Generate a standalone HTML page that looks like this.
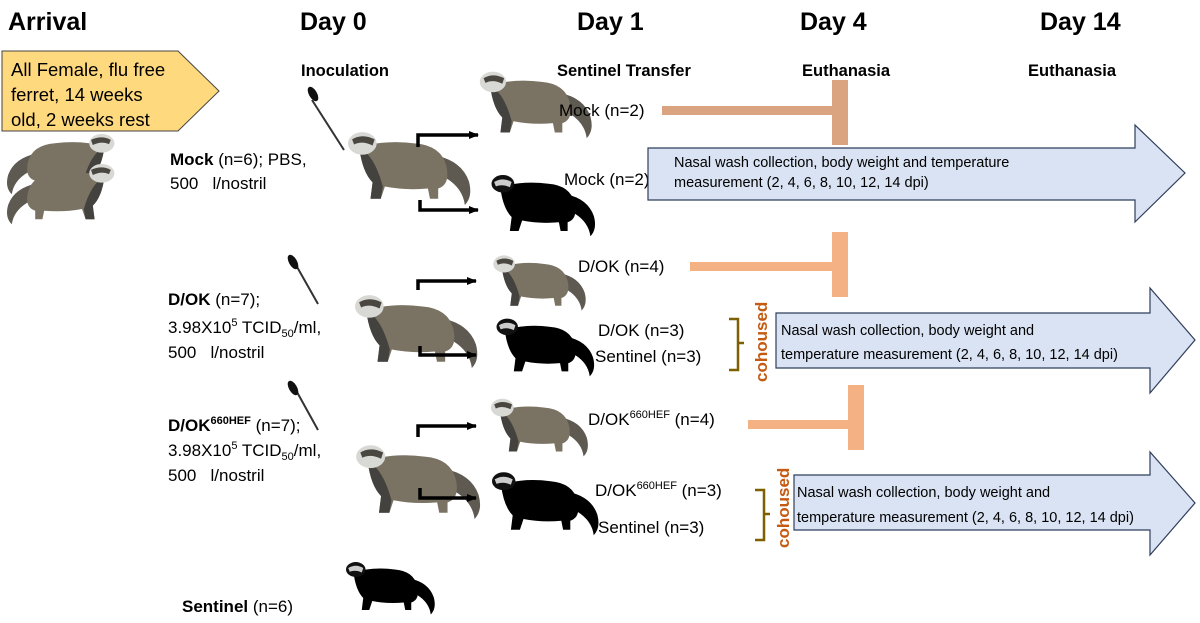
<!DOCTYPE html>
<html><head><meta charset="utf-8"><style>
body{margin:0;background:#fff;}
svg{display:block;font-family:"Liberation Sans",Arial,sans-serif;}
</style></head><body>
<svg width="1200" height="623" viewBox="0 0 1200 623" xmlns="http://www.w3.org/2000/svg">
<defs>
<symbol id="fg" viewBox="0 0 130 80">
<path d="M90 30 Q115 35 122 55 Q126 70 118 78 Q116 62 100 52 Z" fill="#5e5a52"/>
<path d="M15 22 Q40 14 70 18 Q95 20 100 40 Q104 58 92 62 L92 72 L84 72 L82 62 Q60 64 40 60 L36 72 L26 72 L28 56 Q18 46 15 22 Z" fill="#7a7263"/>
<path d="M15 22 Q30 30 38 60 L36 72 L26 72 L28 56 Q18 46 15 22 Z" fill="#44423e"/>
<ellipse cx="18" cy="18" rx="14" ry="11" fill="#d8d8d4"/>
<path d="M8 14 Q18 8 30 14 L28 20 Q18 15 10 19 Z" fill="#4a4640"/>
</symbol>
<symbol id="fb" viewBox="0 0 130 80">
<path d="M90 30 Q115 35 122 55 Q126 70 118 78 Q116 62 100 52 Z" fill="#000"/>
<path d="M15 22 Q40 14 70 18 Q95 20 100 40 Q104 58 92 62 L92 72 L84 72 L82 62 Q60 64 40 60 L36 72 L26 72 L28 56 Q18 46 15 22 Z" fill="#000"/>
<ellipse cx="18" cy="18" rx="13" ry="10" fill="#111"/>
<path d="M8 16 Q18 10 28 16 L26 22 Q18 18 10 21 Z" fill="#ccc"/>
</symbol>
<marker id="ah" markerUnits="userSpaceOnUse" markerWidth="10" markerHeight="10" refX="9" refY="5" orient="auto"><path d="M0 1 L10 5 L0 9 Z" fill="#000"/></marker>
</defs>

<g font-weight="bold" font-size="25" fill="#000">
<text x="8" y="30">Arrival</text>
<text x="300" y="30">Day 0</text>
<text x="577" y="30">Day 1</text>
<text x="800" y="30">Day 4</text>
<text x="1040" y="30">Day 14</text>
</g>
<g font-weight="bold" font-size="16.5">
<text x="301" y="76">Inoculation</text>
<text x="557" y="76">Sentinel Transfer</text>
<text x="802" y="76">Euthanasia</text>
<text x="1028" y="76">Euthanasia</text>
</g>

<path d="M2 51 L178 51 L219 91 L178 131 L2 131 Z" fill="#ffd97d" stroke="#444" stroke-width="1"/>
<g font-size="18.5"><text x="11" y="76">All Female, flu free</text><text x="11" y="101">ferret, 14 weeks</text><text x="11" y="126">old, 2 weeks rest</text></g>

<g transform="translate(118,128) scale(-0.9,0.85)"><use href="#fg" width="130" height="80"/></g>
<g transform="translate(118,158) scale(-0.9,0.85)"><use href="#fg" width="130" height="80"/></g>

<g font-size="17">
<text x="170" y="165"><tspan font-weight="bold">Mock</tspan> (n=6); PBS,</text>
<text x="170" y="189">500 &#160; l/nostril</text>
<text x="168" y="305"><tspan font-weight="bold">D/OK</tspan> (n=7);</text>
<text x="168" y="333">3.98X10<tspan font-size="11" dy="-7">5</tspan><tspan dy="7"> TCID</tspan><tspan font-size="11" dy="4">50</tspan><tspan dy="-4">/ml,</tspan></text>
<text x="168" y="358">500 &#160; l/nostril</text>
<text x="168" y="431"><tspan font-weight="bold">D/OK</tspan><tspan font-weight="bold" font-size="11" dy="-7">660HEF</tspan><tspan dy="7"> (n=7);</tspan></text>
<text x="168" y="456">3.98X10<tspan font-size="11" dy="-7">5</tspan><tspan dy="7"> TCID</tspan><tspan font-size="11" dy="4">50</tspan><tspan dy="-4">/ml,</tspan></text>
<text x="168" y="481">500 &#160; l/nostril</text>
<text x="182" y="612"><tspan font-weight="bold">Sentinel</tspan> (n=6)</text>
</g>

<g stroke="#333" stroke-width="2" fill="none">
<line x1="312" y1="100" x2="344" y2="150"/><line x1="292" y1="258" x2="318" y2="304"/><line x1="292" y1="383" x2="318" y2="430"/>
</g>
<g fill="#111"><ellipse cx="313" cy="94" rx="4" ry="8" transform="rotate(-30 313 94)"/><ellipse cx="293" cy="262" rx="4" ry="8" transform="rotate(-30 293 262)"/><ellipse cx="293" cy="388" rx="4" ry="8" transform="rotate(-30 293 388)"/></g>

<use href="#fg" x="343" y="125" width="135" height="82"/>
<use href="#fg" x="472" y="65" width="130" height="75"/>
<use href="#fb" x="478" y="168" width="132" height="70"/>
<use href="#fg" x="350" y="288" width="135" height="82"/>
<use href="#fg" x="478" y="250" width="125" height="62"/>
<use href="#fb" x="480" y="312" width="132" height="66"/>
<use href="#fg" x="352" y="437" width="135" height="85"/>
<use href="#fg" x="478" y="393" width="125" height="65"/>
<use href="#fb" x="480" y="465" width="132" height="72"/>
<use href="#fb" x="340" y="556" width="102" height="60"/>

<g stroke="#000" stroke-width="3.5" fill="none" marker-end="url(#ah)">
<path d="M418 147 L418 135 L478 135"/><path d="M420 200 L420 210 L478 210"/>
<path d="M418 290 L418 281 L476 281"/><path d="M420 346 L420 355 L476 355"/>
<path d="M418 437 L418 426 L476 426"/><path d="M420 488 L420 498 L476 498"/>
</g>

<g font-size="17">
<text x="559" y="116">Mock (n=2)</text>
<text x="564" y="185">Mock (n=2)</text>
<text x="578" y="272">D/OK (n=4)</text>
<text x="598" y="336">D/OK (n=3)</text>
<text x="595" y="362">Sentinel (n=3)</text>
<text x="588" y="425">D/OK<tspan font-size="11" dy="-7">660HEF</tspan><tspan dy="7"> (n=4)</tspan></text>
<text x="595" y="496">D/OK<tspan font-size="11" dy="-7">660HEF</tspan><tspan dy="7"> (n=3)</tspan></text>
<text x="598" y="533">Sentinel (n=3)</text>
</g>

<rect x="662" y="106" width="178" height="9" fill="#d9a47f"/><rect x="832" y="80" width="16" height="65" fill="#d9a47f"/>
<rect x="690" y="262" width="150" height="9" fill="#f4b183"/><rect x="832" y="232" width="16" height="65" fill="#f4b183"/>
<rect x="748" y="420" width="102" height="9" fill="#f4b183"/><rect x="848" y="385" width="16" height="65" fill="#f4b183"/>

<g fill="#dae3f3" stroke="#2f3e5c" stroke-width="1.2">
<path d="M648 148 L1135 148 L1135 125 L1185 173 L1135 222 L1135 200 L648 200 Z"/>
<path d="M776 313 L1150 313 L1150 288 L1195 340 L1150 393 L1150 368 L776 368 Z"/>
<path d="M794 475 L1150 475 L1150 452 L1195 503 L1150 555 L1150 530 L794 530 Z"/>
</g>
<g font-size="14.5">
<text x="674" y="167">Nasal wash collection, body weight and temperature</text>
<text x="674" y="187">measurement (2, 4, 6, 8, 10, 12, 14 dpi)</text>
<text x="781" y="335">Nasal wash collection, body weight and</text>
<text x="781" y="359">temperature measurement (2, 4, 6, 8, 10, 12, 14 dpi)</text>
<text x="797" y="497">Nasal wash collection, body weight and</text>
<text x="797" y="522">temperature measurement (2, 4, 6, 8, 10, 12, 14 dpi)</text>
</g>

<g stroke="#7f6000" stroke-width="2.5" fill="none">
<path d="M729 319 L738 319 L738 343 L744 343 M738 343 L738 370 L729 370"/>
<path d="M755 490 L764 490 L764 514 L770 514 M764 514 L764 540 L755 540"/>
</g>
<g fill="#c55a11" font-weight="bold" font-size="17">
<text transform="translate(767,382) rotate(-90)">cohoused</text>
<text transform="translate(789,548) rotate(-90)">cohoused</text>
</g>
</svg>
</body></html>
